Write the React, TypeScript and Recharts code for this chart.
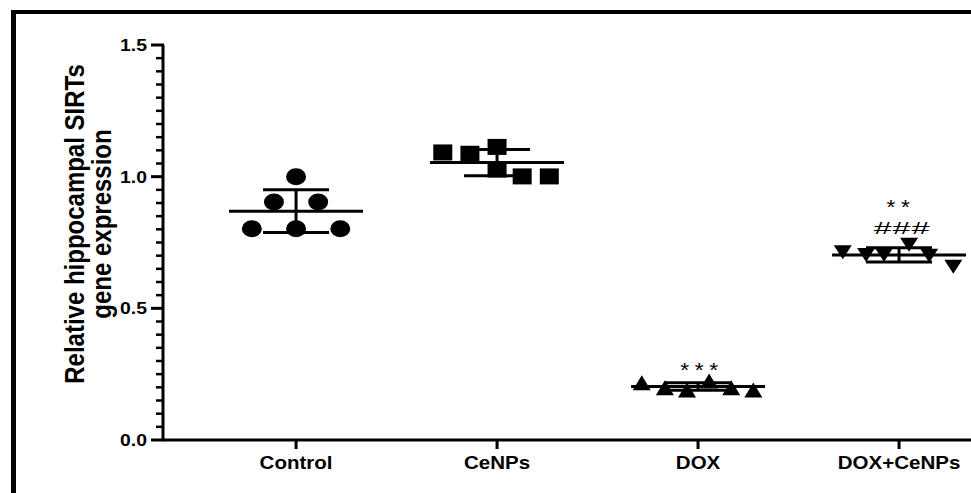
import React from "react";
import { ScatterChart, Scatter, XAxis, YAxis, ErrorBar } from "recharts";

// group names on the x axis
const categories = ["Control", "CeNPs", "DOX", "DOX+CeNPs"];

// individual animals
const controlValues = [1.0, 0.904, 0.904, 0.802, 0.802, 0.802];
const controlJitter = [0, -0.11, 0.11, -0.22, 0, 0.22];

const cenpsValues = [1.092, 1.087, 1.113, 1.027, 1.001, 1.001];
const cenpsJitter = [-0.27, -0.135, 0, 0, 0.125, 0.26];

const doxValues = [0.217, 0.198, 0.19, 0.224, 0.198, 0.19];
const doxJitter = [-0.28, -0.165, -0.055, 0.055, 0.165, 0.275];

const doxCenpsValues = [0.713, 0.703, 0.703, 0.741, 0.7, 0.658];
const doxCenpsJitter = [-0.28, -0.164, -0.075, 0.05, 0.15, 0.27];

const yTicks = [
  0, 0.05, 0.1, 0.15, 0.2, 0.25, 0.3, 0.35, 0.4, 0.45, 0.5, 0.55, 0.6, 0.65, 0.7, 0.75,
  0.8, 0.85, 0.9, 0.95, 1.0, 1.05, 1.1, 1.15, 1.2, 1.25, 1.3, 1.35, 1.4, 1.45, 1.5,
];
const xTicks = [0, 1, 2, 3];

// significance marks: text, x, y (glyph centre)
const marks = [
  { label: "***", x: 2.02, y: 0.281 },
  { label: "**", x: 3.01, y: 0.9 },
  { label: "###", x: 3.015, y: 0.806 },
];

const FONT = '"Liberation Sans", Arial, sans-serif';
const SX = 1.14; // the figure is stretched horizontally

const mean = (a: number[]) => a.reduce((s, v) => s + v, 0) / a.length;
const sd = (a: number[]) => {
  const m = mean(a);
  return Math.sqrt(a.reduce((s, v) => s + (v - m) * (v - m), 0) / (a.length - 1));
};

const groups = [
  { values: controlValues, jitter: controlJitter, marker: "circle" },
  { values: cenpsValues, jitter: cenpsJitter, marker: "square" },
  { values: doxValues, jitter: doxJitter, marker: "triangle" },
  { values: doxCenpsValues, jitter: doxCenpsJitter, marker: "down" },
];

const summary = groups.map((g, i) => ({ x: i, y: mean(g.values), err: sd(g.values) }));

const Marker = (kind: string) => (p: any) => {
  const { cx, cy } = p;
  if (cx == null || cy == null) return null;
  if (kind === "circle") return <ellipse cx={cx} cy={cy} rx={10} ry={8.5} fill="#000" />;
  if (kind === "square") return <rect x={cx - 9.5} y={cy - 8} width={19} height={16} fill="#000" />;
  if (kind === "triangle")
    return <polygon points={`${cx},${cy - 7.5} ${cx - 9},${cy + 7.5} ${cx + 9},${cy + 7.5}`} fill="#000" />;
  return <polygon points={`${cx - 9},${cy - 7} ${cx + 9},${cy - 7} ${cx},${cy + 7}`} fill="#000" />;
};

const MeanLine = (p: any) => {
  const { cx, cy } = p;
  if (cx == null || cy == null) return null;
  return <line x1={cx - 67} x2={cx + 67} y1={cy} y2={cy} stroke="#000" strokeWidth={3} />;
};

const MarkText = (p: any) => {
  const { cx, cy } = p;
  const label = p.payload?.label ?? p.label;
  if (cx == null || cy == null) return null;
  if (label === "###") {
    return (
      <g transform={`translate(${cx},${cy + 6}) scale(1.9,1)`}>
        <text textAnchor="middle" fontSize={17} fontFamily={FONT} letterSpacing={0.5} fill="#000">
          {label}
        </text>
      </g>
    );
  }
  return (
    <g transform={`translate(${cx},${cy + 11}) scale(${SX},1)`}>
      <text textAnchor="middle" fontSize={20} fontFamily={FONT} letterSpacing={5} fill="#000">
        {label}
      </text>
    </g>
  );
};

const YTick = (p: any) => {
  const { x, y, payload } = p;
  const v = Number(payload.value);
  const major = Math.abs(v * 2 - Math.round(v * 2)) < 1e-6;
  return (
    <g>
      <line
        x1={x - (major ? 12 : 7)}
        x2={x + 1}
        y1={y}
        y2={y}
        stroke="#000"
        strokeWidth={major ? 3 : 2.5}
      />
      {major && (
        <g transform={`translate(${x - 16},${y + 6}) scale(${SX},1)`}>
          <text textAnchor="end" fontSize={17} fontWeight="bold" fontFamily={FONT} fill="#000">
            {v.toFixed(1)}
          </text>
        </g>
      )}
    </g>
  );
};

const XTick = (p: any) => {
  const { x, y, payload } = p;
  return (
    <g>
      <line x1={x} x2={x} y1={y} y2={y + 9} stroke="#000" strokeWidth={3} />
      <g transform={`translate(${x},${y + 29}) scale(${SX},1)`}>
        <text textAnchor="middle" fontSize={18} fontWeight="bold" fontFamily={FONT} fill="#000">
          {categories[payload.value]}
        </text>
      </g>
    </g>
  );
};

export default function App() {
  return (
    <div
      style={{
        position: "absolute",
        left: 0,
        top: 0,
        width: 971,
        height: 493,
        overflow: "hidden",
        background: "#fff",
      }}
    >
      <div
        style={{
          position: "absolute",
          left: 11,
          top: 10,
          width: 2000,
          height: 2000,
          borderTop: "4px solid #000",
          borderLeft: "5px solid #000",
        }}
      />
      <svg width={971} height={493} style={{ position: "absolute", left: 0, top: 0 }}>
        <g transform={`translate(84,224) scale(${SX},1) rotate(-90)`}>
          <text textAnchor="middle" fontSize={24} fontWeight="bold" fontFamily={FONT} fill="#000">
            <tspan x={0} y={0}>Relative hippocampal SIRTs</tspan>
            <tspan x={0} y={24}>gene expression</tspan>
          </text>
        </g>
      </svg>
      <div style={{ position: "absolute", left: 0, top: 0 }}>
        <ScatterChart width={971} height={493} margin={{ top: 45, right: 0, bottom: 0, left: 0 }}>
          <XAxis
            type="number"
            dataKey="x"
            domain={[-0.662, 3.358]}
            ticks={xTicks}
            interval={0}
            allowDataOverflow
            height={53}
            axisLine={{ stroke: "#000", strokeWidth: 3 }}
            tickLine={false}
            tickSize={0}
            tickMargin={0}
            tick={<XTick />}
          />
          <YAxis
            type="number"
            dataKey="y"
            domain={[0, 1.5]}
            ticks={yTicks}
            interval={0}
            minTickGap={0}
            allowDataOverflow
            width={163}
            axisLine={{ stroke: "#000", strokeWidth: 3 }}
            tickLine={false}
            tickSize={0}
            tickMargin={0}
            tick={<YTick />}
          />
          {groups.map((g, gi) => (
            <Scatter
              key={categories[gi]}
              data={g.values.map((v, i) => ({ x: gi + g.jitter[i], y: v }))}
              shape={Marker(g.marker)}
              isAnimationActive={false}
            />
          ))}
          <Scatter data={summary} shape={MeanLine} isAnimationActive={false}>
            <ErrorBar dataKey="err" direction="y" width={33} strokeWidth={3} stroke="#000" />
          </Scatter>
          <Scatter data={marks} shape={MarkText} isAnimationActive={false} />
        </ScatterChart>
      </div>
    </div>
  );
}
